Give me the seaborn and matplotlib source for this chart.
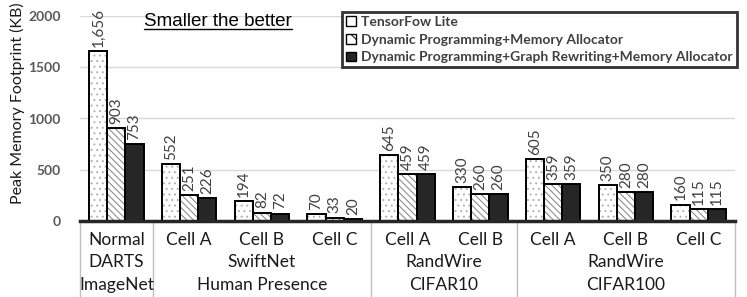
import numpy as np
import pandas as pd
import matplotlib
matplotlib.use("Agg")
import matplotlib.pyplot as plt
import matplotlib.patches as mpatches
import matplotlib.transforms as mtransforms
import seaborn as sns

# data
cells = ["Normal", "Cell A", "Cell B", "Cell C", "Cell A", "Cell B", "Cell A", "Cell B", "Cell C"]
group_top = [("DARTS", 0), ("SwiftNet", 2), ("RandWire", 4.5), ("RandWire", 7)]
group_bottom = [("ImageNet", 0), ("Human Presence", 2), ("CIFAR10", 4.5), ("CIFAR100", 7)]
separators = [-0.5, 0.5, 3.5, 5.5, 8.5]
methods = ["TensorFow Lite", "Dynamic Programming+Memory Allocator",
           "Dynamic Programming+Graph Rewriting+Memory Allocator"]
tflite = [1656, 552, 194, 70, 645, 330, 605, 350, 160]
dp = [903, 251, 82, 33, 459, 260, 359, 280, 115]
dp_gr = [753, 226, 72, 20, 459, 260, 359, 280, 115]

df = pd.DataFrame({
    "idx": list(range(9)) * 3,
    "method": np.repeat(methods, 9),
    "kb": tflite + dp + dp_gr,
})

sns.set_style("white")
plt.rcParams["font.family"] = ["Lato", "DejaVu Sans"]
plt.rcParams["hatch.linewidth"] = 0.7

fig = plt.figure(figsize=(7.47, 2.97), dpi=100)
ax = fig.add_axes([80 / 747, 76 / 297, 655 / 747, 205 / 297])

sns.barplot(data=df, x="idx", y="kb", hue="method", hue_order=methods,
            order=list(range(9)), width=0.75, ax=ax, legend=False, errorbar=None)

fills = ["white", "white", "#262626"]
hatch_cols = ["#b0b0b0", "#808080", "#262626"]
hatches = ["...", "\\\\\\\\\\", None]
for cont, fc, hc, h in zip(ax.containers, fills, hatch_cols, hatches):
    for p in cont:
        p.set_facecolor(fc)
        p.set_edgecolor(hc)
        p.set_linewidth(0)
        if h:
            p.set_hatch(h)
        ax.add_patch(mpatches.Rectangle(p.get_xy(), p.get_width(), p.get_height(),
                                        fill=False, edgecolor="black", linewidth=1.4, zorder=3))
    ax.bar_label(cont, labels=[f"{v:,.0f}" for v in cont.datavalues], rotation=90,
                 padding=3, fontsize=11, color="#404040")

ax.set_ylim(0, 2000)
ax.set_xlim(-0.5, 8.5)
ax.set_yticks([0, 500, 1000, 1500, 2000])
ax.tick_params(axis="y", length=0, labelsize=10, labelcolor="#595959", pad=14)
for t in ax.get_yticklabels():
    t.set_fontweight("bold")
ax.grid(axis="y", color="#d9d9d9", linewidth=1)
ax.set_axisbelow(True)
for s in ["top", "right", "left"]:
    ax.spines[s].set_visible(False)
ax.spines["bottom"].set_linewidth(2.5)
ax.spines["bottom"].set_zorder(4)

ax.set_xticks(range(9))
ax.set_xticklabels([])
ax.tick_params(axis="x", length=0)
ax.set_xlabel("")
ax.set_ylabel("")
fig.text(17 / 747, 1 - 2 / 297, "Peak Memory Footprint (KB)", rotation=90,
         ha="center", va="top", fontsize=11.5, color="#1a1a1a")

# three rows of category labels under the axis
trans = mtransforms.blended_transform_factory(ax.transData, ax.transAxes)
for i, name in enumerate(cells):
    ax.text(i, -0.093, name, transform=trans, ha="center", va="center",
            fontsize=12.5, color="#1a1a1a")
for name, xc in group_top:
    ax.text(xc, -0.2, name, transform=trans, ha="center", va="center",
            fontsize=12.5, color="#1a1a1a")
for name, xc in group_bottom:
    ax.text(xc, -0.312, name, transform=trans, ha="center", va="center",
            fontsize=12.5, color="#1a1a1a")
for xs in separators:
    ax.plot([xs, xs], [0, -0.38], transform=trans, color="#bfbfbf",
            linewidth=1, clip_on=False)

# underlined note
note = fig.text(144 / 747, 1 - 22 / 297, "Smaller the better", fontsize=13.5,
                family="Liberation Sans", color="black", va="center", ha="left")
fig.canvas.draw()
bb = note.get_window_extent().transformed(fig.transFigure.inverted())
fig.add_artist(plt.Line2D([bb.x0, bb.x1], [bb.y0 + 0.006, bb.y0 + 0.006],
                          color="black", linewidth=1, transform=fig.transFigure))

handles = [mpatches.Patch(facecolor=fc, edgecolor="black", hatch=h, linewidth=1)
           for fc, h in zip(fills, [None, "\\\\", None])]
leg = fig.legend(handles, methods, loc="upper right",
                 bbox_to_anchor=(737 / 747, 1 - 12 / 297), fontsize=10,
                 frameon=True, fancybox=False, handlelength=0.7, handleheight=0.7,
                 handletextpad=0.4, labelspacing=0.4, borderpad=0.3, borderaxespad=0)
leg.get_frame().set_edgecolor("black")
leg.get_frame().set_linewidth(2)
for t in leg.get_texts():
    t.set_fontweight("bold")
    t.set_color("#404040")

fig.savefig("out.png", dpi=100)
